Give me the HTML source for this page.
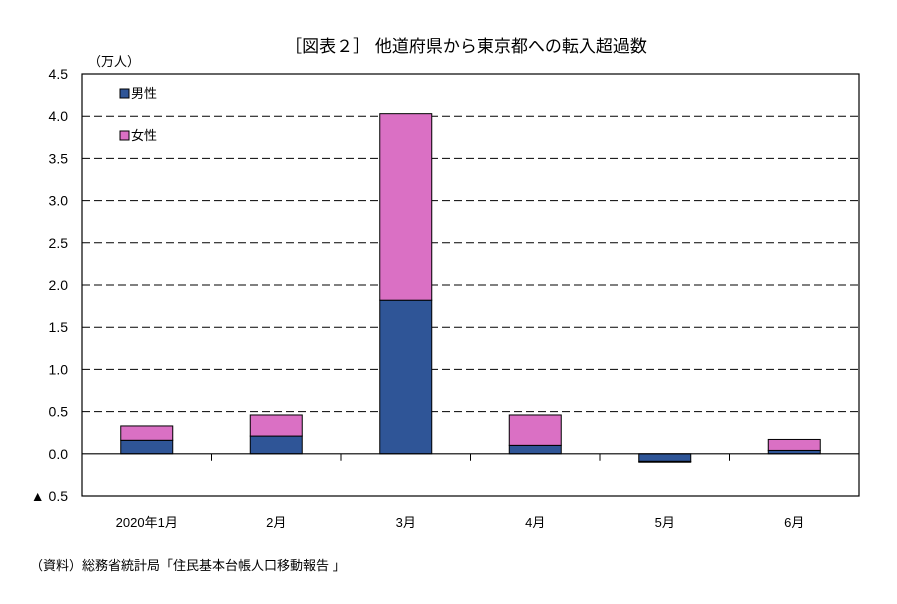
<!DOCTYPE html>
<html><head><meta charset="utf-8"><style>
body{margin:0;background:#fff;font-family:"Liberation Sans","Noto Sans CJK JP",sans-serif;}
</style></head><body>
<svg id="c" width="897" height="599" xmlns="http://www.w3.org/2000/svg" font-family="Liberation Sans, Noto Sans CJK JP, sans-serif">
<text x="466" y="52" font-size="17" text-anchor="middle">［図表２］ 他道府県から東京都への転入超過数</text>
<text x="88" y="66" font-size="13">（万人）</text>
<text x="30" y="570" font-size="13">（資料）総務省統計局「住民基本台帳人口移動報告 」</text>
<g id="grid"></g><g id="bars"></g><g id="axes"></g>
<g>
<rect x="120" y="89" width="9" height="9" fill="#2f5597" stroke="#000" stroke-width="1"/>
<text x="131" y="98" font-size="13">男性</text>
<rect x="120" y="131" width="9" height="9" fill="#da70c4" stroke="#000" stroke-width="1"/>
<text x="131" y="140" font-size="13">女性</text>
</g>
</svg>
<script>
const categories=["2020年1月","2月","3月","4月","5月","6月"];
const male=[0.16,0.21,1.82,0.10,-0.09,0.04];
const female=[0.17,0.25,2.21,0.36,-0.01,0.13];
const ticks=[4.5,4.0,3.5,3.0,2.5,2.0,1.5,1.0,0.5,0.0,-0.5];
const tickLabels=["4.5","4.0","3.5","3.0","2.5","2.0","1.5","1.0","0.5","0.0","▲ 0.5"];
const NS="http://www.w3.org/2000/svg";
const L=82,R=859,T=74,B=496,ymin=-0.5,ymax=4.5;
const y=v=>B-(v-ymin)/(ymax-ymin)*(B-T);
const bw=(R-L)/categories.length;
const x=i=>L+bw*(i+0.5);
function mk(tag,parent,attrs){const e=document.createElementNS(NS,tag);for(const k in attrs)e.setAttribute(k,attrs[k]);document.getElementById(parent).appendChild(e);return e;}
ticks.forEach((t,i)=>{
  if(t!==0&&t!==ymax&&t!==ymin){const g=mk('line','grid',{x1:L,x2:R,y1:y(t),y2:y(t),stroke:'#000','stroke-width':1,'stroke-dasharray':'8,4'});
  
  }
  const tx=mk('text','axes',{x:68,y:y(t)+5,'font-size':14,'text-anchor':'end'});
  tx.textContent=tickLabels[i];
  
  
});
categories.forEach((c,i)=>{
  const w=52,x0=x(i)-w/2;
  const m=male[i],f=female[i];
  const mb=mk('rect','bars',{x:x0,y:Math.min(y(0),y(m)),width:w,height:Math.abs(y(m)-y(0)),fill:'#2f5597',stroke:'#000','stroke-width':1});
  
  
  const fb=mk('rect','bars',{x:x0,y:Math.min(y(m),y(m+f)),width:w,height:Math.abs(y(m+f)-y(m)),fill:'#da70c4',stroke:'#000','stroke-width':1});
  
  
  const tx=mk('text','axes',{x:x(i),y:527,'font-size':13,'text-anchor':'middle'});
  tx.textContent=c;
  
  
  if(i>0){const tk=mk('line','axes',{x1:L+bw*i,x2:L+bw*i,y1:y(0),y2:y(0)+7,stroke:'#000','stroke-width':1});
  
  }
});
const fr=mk('rect','axes',{x:L,y:T,width:R-L,height:B-T,fill:'none',stroke:'#000','stroke-width':1.2});


const z=mk('line','axes',{x1:L,x2:R,y1:y(0),y2:y(0),stroke:'#000','stroke-width':1.2});


</script>
</body></html>
